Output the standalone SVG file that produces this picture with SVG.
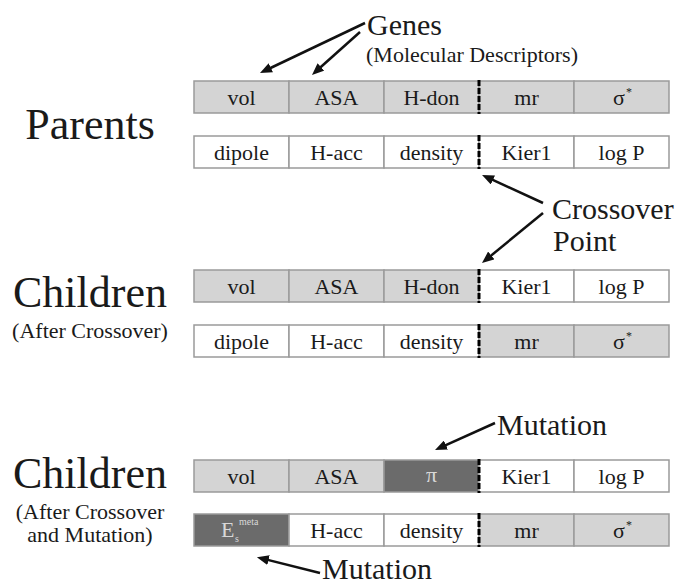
<svg xmlns="http://www.w3.org/2000/svg" width="676" height="586" viewBox="0 0 676 586">
<style>
  text { font-family: "Liberation Serif", "Times New Roman", serif; fill: #1a1a1a; }
  .c { stroke: #9a9a9a; stroke-width: 1.5; }
  .g { fill: #d4d4d4; }
  .w { fill: #ffffff; }
  .d { fill: #6b6b6b; }
  .t { font-size: 22px; text-anchor: middle; }
  .tl { font-size: 22px; text-anchor: middle; fill: #d8d8d8; }
  .big { font-size: 44px; text-anchor: middle; }
  .sub { font-size: 22px; text-anchor: middle; }
  .lab { font-size: 30px; }
  .cut { stroke: #000; stroke-width: 3; stroke-dasharray: 6 2; fill: none; }
  .arr { stroke: #111; stroke-width: 2.5; fill: none; marker-end: url(#ah); }
</style>
<defs>
  <marker id="ah" viewBox="0 0 12 10" refX="5" refY="5" markerWidth="12" markerHeight="10" markerUnits="userSpaceOnUse" orient="auto">
    <path d="M0,0 L12,5 L0,10 z" fill="#111"/>
  </marker>
</defs>
<rect width="676" height="586" fill="#fff"/>

<!-- Left labels -->
<g id="label-parents"><text class="big" x="90" y="139">Parents</text></g>
<g id="label-children1">
  <text class="big" x="90" y="307">Children</text>
  <text class="sub" x="90" y="338">(After Crossover)</text>
</g>
<g id="label-children2">
  <text class="big" x="90" y="488">Children</text>
  <text class="sub" x="90" y="519">(After Crossover</text>
  <text class="sub" x="90" y="542">and Mutation)</text>
</g>

<!-- Annotation labels -->
<g id="label-genes">
  <text class="lab" x="367" y="35">Genes</text>
  <text font-size="22" x="366" y="62">(Molecular Descriptors)</text>
</g>
<g id="label-crossover">
  <text class="lab" x="552" y="219">Crossover</text>
  <text class="lab" x="553" y="251">Point</text>
</g>
<g id="label-mutation1"><text class="lab" x="497" y="435">Mutation</text></g>
<g id="label-mutation2"><text class="lab" x="322" y="579">Mutation</text></g>

<!-- Parent 1 -->
<g id="parent1">
  <rect class="c g" x="194" y="81" width="95" height="32"/>
  <rect class="c g" x="289" y="81" width="95" height="32"/>
  <rect class="c g" x="384" y="81" width="95" height="32"/>
  <rect class="c g" x="479" y="81" width="95" height="32"/>
  <rect class="c g" x="574" y="81" width="95" height="32"/>
  <text class="t" x="241.5" y="105">vol</text>
  <text class="t" x="336.5" y="105">ASA</text>
  <text class="t" x="431.5" y="105">H-don</text>
  <text class="t" x="526.5" y="105">mr</text>
  <text class="t" x="619" y="105">σ</text><text font-size="12" x="626" y="96">*</text>
  <line class="cut" x1="479" y1="80" x2="479" y2="114"/>
</g>

<!-- Parent 2 -->
<g id="parent2">
  <rect class="c w" x="194" y="136" width="95" height="32"/>
  <rect class="c w" x="289" y="136" width="95" height="32"/>
  <rect class="c w" x="384" y="136" width="95" height="32"/>
  <rect class="c w" x="479" y="136" width="95" height="32"/>
  <rect class="c w" x="574" y="136" width="95" height="32"/>
  <text class="t" x="241.5" y="160">dipole</text>
  <text class="t" x="336.5" y="160">H-acc</text>
  <text class="t" x="431.5" y="160">density</text>
  <text class="t" x="526.5" y="160">Kier1</text>
  <text class="t" x="621.5" y="160">log P</text>
  <line class="cut" x1="479" y1="135" x2="479" y2="169"/>
</g>

<!-- Child 1 after crossover -->
<g id="child1">
  <rect class="c g" x="194" y="270" width="95" height="32"/>
  <rect class="c g" x="289" y="270" width="95" height="32"/>
  <rect class="c g" x="384" y="270" width="95" height="32"/>
  <rect class="c w" x="479" y="270" width="95" height="32"/>
  <rect class="c w" x="574" y="270" width="95" height="32"/>
  <text class="t" x="241.5" y="294">vol</text>
  <text class="t" x="336.5" y="294">ASA</text>
  <text class="t" x="431.5" y="294">H-don</text>
  <text class="t" x="526.5" y="294">Kier1</text>
  <text class="t" x="621.5" y="294">log P</text>
  <line class="cut" x1="479" y1="269" x2="479" y2="303"/>
</g>

<!-- Child 2 after crossover -->
<g id="child2">
  <rect class="c w" x="194" y="325" width="95" height="32"/>
  <rect class="c w" x="289" y="325" width="95" height="32"/>
  <rect class="c w" x="384" y="325" width="95" height="32"/>
  <rect class="c g" x="479" y="325" width="95" height="32"/>
  <rect class="c g" x="574" y="325" width="95" height="32"/>
  <text class="t" x="241.5" y="349">dipole</text>
  <text class="t" x="336.5" y="349">H-acc</text>
  <text class="t" x="431.5" y="349">density</text>
  <text class="t" x="526.5" y="349">mr</text>
  <text class="t" x="619" y="349">σ</text><text font-size="12" x="626" y="340">*</text>
  <line class="cut" x1="479" y1="324" x2="479" y2="358"/>
</g>

<!-- Child 1 after mutation -->
<g id="child3">
  <rect class="c g" x="194" y="460" width="95" height="32"/>
  <rect class="c g" x="289" y="460" width="95" height="32"/>
  <rect class="c d" x="384" y="460" width="95" height="32"/>
  <rect class="c w" x="479" y="460" width="95" height="32"/>
  <rect class="c w" x="574" y="460" width="95" height="32"/>
  <text class="t" x="241.5" y="484">vol</text>
  <text class="t" x="336.5" y="484">ASA</text>
  <text class="tl" x="431.5" y="482" font-size="18">π</text>
  <text class="t" x="526.5" y="484">Kier1</text>
  <text class="t" x="621.5" y="484">log P</text>
  <line class="cut" x1="479" y1="459" x2="479" y2="493"/>
</g>

<!-- Child 2 after mutation -->
<g id="child4">
  <rect class="c d" x="194" y="514" width="95" height="32"/>
  <rect class="c w" x="289" y="514" width="95" height="32"/>
  <rect class="c w" x="384" y="514" width="95" height="32"/>
  <rect class="c g" x="479" y="514" width="95" height="32"/>
  <rect class="c g" x="574" y="514" width="95" height="32"/>
  <text font-size="22" x="221" y="537" style="fill:#d8d8d8">E</text>
  <text font-size="10" x="235" y="542" style="fill:#d8d8d8">s</text>
  <text font-size="10" x="239" y="525" style="fill:#d8d8d8">meta</text>
  <text class="t" x="336.5" y="538">H-acc</text>
  <text class="t" x="431.5" y="538">density</text>
  <text class="t" x="526.5" y="538">mr</text>
  <text class="t" x="619" y="538">σ</text><text font-size="12" x="626" y="529">*</text>
  <line class="cut" x1="479" y1="513" x2="479" y2="547"/>
</g>

<!-- Connectors -->
<g id="connectors">
  <line class="arr" x1="365" y1="23" x2="266.3" y2="70"/>
  <line class="arr" x1="360" y1="32" x2="317.2" y2="70.3"/>
  <line class="arr" x1="543" y1="203" x2="488.4" y2="177.9"/>
  <line class="arr" x1="543" y1="213" x2="487.4" y2="258.6"/>
  <line class="arr" x1="495" y1="423" x2="441.4" y2="447.1"/>
  <line class="arr" x1="320" y1="573" x2="263.7" y2="558.9"/>
</g>
</svg>
